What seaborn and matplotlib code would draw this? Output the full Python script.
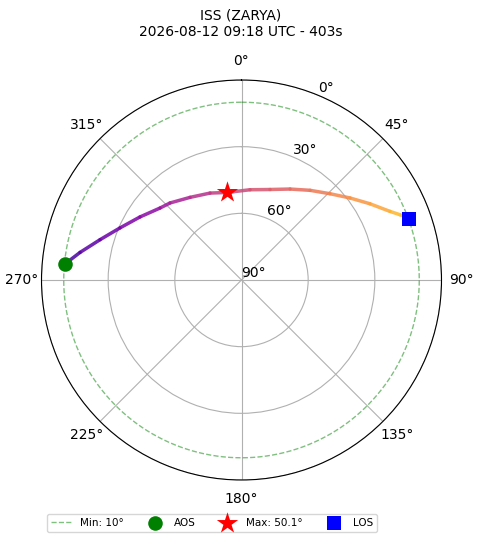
import numpy as np
import seaborn as sns
import matplotlib.pyplot as plt
from matplotlib.collections import LineCollection

# Pass track (azimuth / elevation in degrees)
track_az = [275.3, 279.7, 285.9, 293.2, 301.8, 311.5, 317.1, 328.1, 340.1, 350.9,
            5.4, 17.5, 28.1, 37.4, 45.7, 52.9, 59.3, 65.2, 67.6, 69.9]
track_el = [10.4, 16.3, 23.8, 30.5, 36.2, 41.1, 42.7, 46.2, 48.4, 50.1,
            49.2, 47.3, 43.6, 39.2, 34.4, 28.8, 22.8, 16.4, 12.9, 9.6]

aos_az, aos_el = 275.3, 10.4
max_az, max_el = 350.9, 50.1
los_az, los_el = 69.9, 9.6
min_el = 10

sat_name = "ISS (ZARYA)"
pass_start = "2026-08-12 09:18 UTC"
duration_s = 403

r_ticks = [0, 30, 60, 90]
r_labels = ["90°", "60°", "30°", "0°"]

fig = plt.figure(figsize=(4.8, 5.43), dpi=100)
ax = fig.add_axes([41.5 / 480, 63 / 543, 400 / 480, 400 / 543], projection="polar")
ax.set_theta_zero_location("N")
ax.set_theta_direction(-1)

# track coloured by time
theta = np.unwrap(np.radians(track_az))
r = 90 - np.array(track_el)
pts = np.column_stack([theta, r]).reshape(-1, 1, 2)
segs = np.concatenate([pts[:-1], pts[1:]], axis=1)
cols = plt.cm.plasma(np.linspace(0.12, 0.88, len(segs)))
lc = LineCollection(segs, colors=cols, linewidths=2.5, capstyle="round",
                    alpha=0.85, zorder=3)
ax.add_collection(lc)

# minimum elevation ring
ring = np.linspace(0, 2 * np.pi, 361)
ax.plot(ring, np.full_like(ring, 90 - min_el), "--", color="green", alpha=0.5,
        lw=1, label=f"Min: {min_el}°")

sns.scatterplot(x=[np.radians(aos_az)], y=[90 - aos_el], ax=ax, color="green",
                marker="o", s=110, linewidth=0, label="AOS", zorder=5)
sns.scatterplot(x=[np.radians(max_az)], y=[90 - max_el], ax=ax, color="red",
                marker="*", s=260, linewidth=0, label=f"Max: {max_el}°", zorder=5)
sns.scatterplot(x=[np.radians(los_az)], y=[90 - los_el], ax=ax, color="blue",
                marker="s", s=100, linewidth=0, label="LOS", zorder=5)

ax.set_rlim(0, 90)
ax.set_rticks(r_ticks)
ax.set_yticklabels(r_labels)
ax.set_xlabel("")
ax.set_ylabel("")
ax.tick_params(labelsize=10)

ax.legend(loc="lower left", bbox_to_anchor=(47 / 480, 11 / 543), bbox_transform=fig.transFigure,
          ncol=4, fontsize=7.5, borderaxespad=0)

fig.text(241 / 480, 1 - 38.5 / 543, f"{sat_name}\n{pass_start} - {duration_s}s",
         ha="center", va="bottom", fontsize=10)

plt.savefig("out.png", dpi=100)
